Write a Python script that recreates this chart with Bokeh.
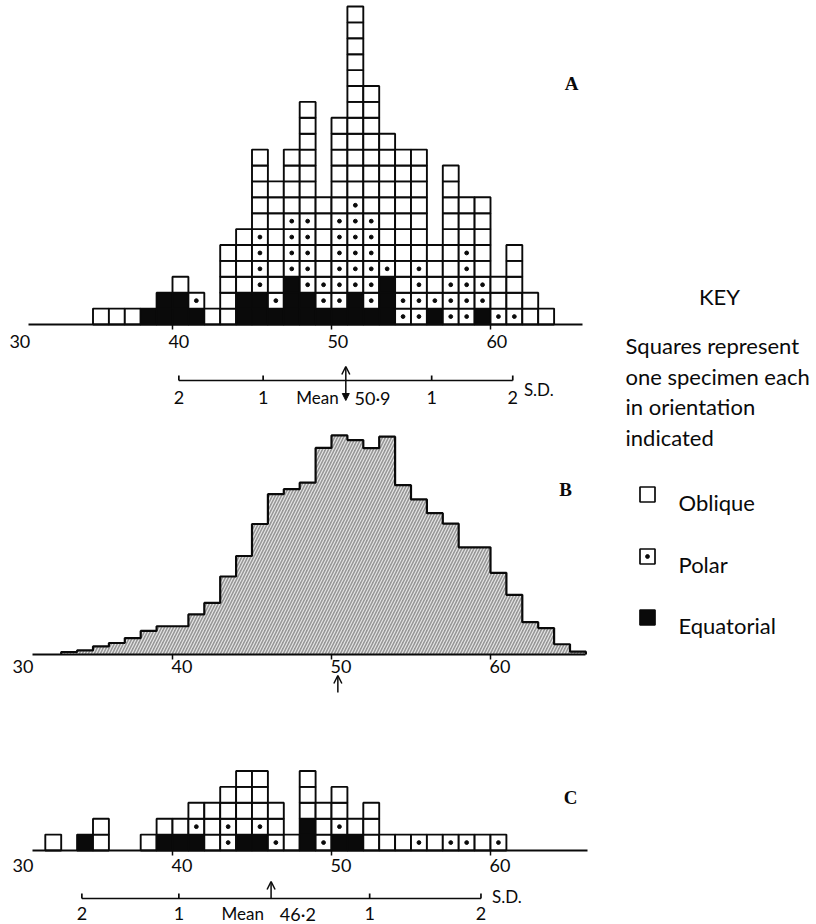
from bokeh.plotting import figure
from bokeh.models import Range1d, Arrow, OpenHead, NormalHead, ColumnDataSource
from bokeh.core.properties import value
from bokeh.embed import file_html
from bokeh.resources import INLINE

# ---------------- data ----------------
# Sample A: specimens per unit class (class starts at the listed value)
a_values     = [35, 36, 37, 38, 39, 40, 41, 42, 43, 44, 45, 46, 47, 48, 49,
                50, 51, 52, 53, 54, 55, 56, 57, 58, 59, 60, 61, 62, 63]
a_equatorial = [0, 0, 0, 1, 2, 2, 1, 0, 0, 2, 2, 1, 3, 2, 1,
                1, 2, 1, 3, 0, 0, 1, 0, 0, 1, 0, 0, 0, 0]
a_polar      = [0, 0, 0, 0, 0, 0, 1, 0, 0, 0, 4, 1, 4, 5, 2,
                6, 6, 6, 1, 2, 4, 1, 3, 5, 2, 1, 1, 0, 0]
a_oblique    = [1, 1, 1, 0, 0, 1, 0, 1, 5, 4, 5, 7, 4, 7, 5,
                6, 12, 8, 8, 9, 7, 3, 7, 3, 5, 2, 4, 2, 1]
a_mean = 50.9
a_sd_marks = [40.4, 45.7, 56.3, 61.4]      # -2, -1, +1, +2 S.D.

# Sample B: percentage frequency per unit class
b_values  = [33, 34, 35, 36, 37, 38, 39, 40, 41, 42, 43, 44, 45, 46, 47, 48, 49,
             50, 51, 52, 53, 54, 55, 56, 57, 58, 59, 60, 61, 62, 63, 64, 65]
b_percent = [0.08, 0.13, 0.26, 0.37, 0.53, 0.76, 0.91, 0.91, 1.29, 1.66, 2.51,
             3.17, 4.20, 5.16, 5.32, 5.53, 6.65, 7.05, 6.90, 6.64, 7.01, 5.45,
             4.99, 4.55, 4.21, 3.45, 3.45, 2.63, 1.92, 1.04, 0.85, 0.33, 0.09]
b_mean_marker = 50.4

# Sample C
c_values     = [32, 34, 35, 38, 39, 40, 41, 42, 43, 44, 45, 46, 47, 48, 49,
                50, 51, 52, 53, 54, 55, 56, 57, 58, 59, 60]
c_equatorial = [0, 1, 0, 0, 1, 1, 1, 0, 0, 1, 1, 0, 0, 2, 0,
                1, 1, 0, 0, 0, 0, 0, 0, 0, 0, 0]
c_polar      = [0, 0, 0, 0, 0, 0, 1, 0, 2, 0, 1, 1, 0, 0, 1,
                1, 0, 0, 0, 0, 1, 0, 1, 1, 0, 1]
c_oblique    = [1, 0, 2, 1, 1, 1, 1, 3, 2, 4, 3, 2, 1, 3, 2,
                2, 1, 3, 1, 1, 0, 1, 0, 0, 1, 0]
c_mean = 46.2
c_sd_marks = [34.3, 40.4, 52.4, 59.4]

tick_values = [30, 40, 50, 60]
sd_labels = ["2", "1", "1", "2"]
key_labels = ["Oblique", "Polar", "Equatorial"]

# ---------------- layout ----------------
W, H = 816, 924
UNIT_PX = 15.9          # one class width == one specimen square
X40 = 172               # page x of the value 40
PCT_PX = 31.07          # height of 1 % in panel B
BASE_A, BASE_B, BASE_C = 324, 654, 850
SANS = value("Lato")
SERIF = value("Liberation Serif")
INK = "#0a0a0a"

x_lo = 40 - X40 / UNIT_PX
x_hi = 40 + (W - X40) / UNIT_PX
ux = lambda px: x_lo + px / UNIT_PX     # page x -> value

p = figure(width=W, height=H, x_range=Range1d(x_lo, x_hi), y_range=Range1d(H, 0),
           output_backend="svg", toolbar_location=None, min_border=0,
           x_axis_location=None, y_axis_location=None)
p.title.visible = False
p.outline_line_color = None
p.grid.visible = False
p.background_fill_color = "white"
p.border_fill_color = "white"


def count_range(base):
    return Range1d(-(H - base) / UNIT_PX, base / UNIT_PX)


p.extra_y_ranges = {
    "a": count_range(BASE_A),
    "c": count_range(BASE_C),
    "b": Range1d(-(H - BASE_B) / PCT_PX, BASE_B / PCT_PX),
}
p.extra_x_ranges = {"px": Range1d(0, W)}


def label(x, y, text, size, align="center", baseline="middle", xr="default",
          font=SANS, style="normal"):
    p.text(x=x, y=y, text=text, x_range_name=xr, text_font=font,
           text_font_size=size, text_align=align, text_baseline=baseline,
           text_font_style=style, text_color=INK)


def specimen_stack(values, eq, po, ob, yr):
    left, bottom, fill = [], [], []
    dx, dy = [], []
    for v, ne, npol, nob in zip(values, eq, po, ob):
        level = 0
        for kind, n in (("eq", ne), ("po", npol), ("ob", nob)):
            for _ in range(n):
                left.append(v)
                bottom.append(level)
                fill.append(INK if kind == "eq" else "white")
                if kind == "po":
                    dx.append(v + 0.5)
                    dy.append(level + 0.5)
                level += 1
    src = ColumnDataSource(dict(left=left, right=[l + 1 for l in left],
                                bottom=bottom, top=[b + 1 for b in bottom], fill=fill))
    p.quad(left="left", right="right", bottom="bottom", top="top", source=src,
           fill_color="fill", line_color=INK, line_width=1.9, y_range_name=yr)
    p.scatter(dx, dy, size=3.8, color=INK, y_range_name=yr)


def value_axis(base, x_start, x_end, label_shift, label_y):
    p.line([x_start, x_end], [base, base], line_color=INK, line_width=2.2)
    p.segment(x0=tick_values[1:], x1=tick_values[1:], y0=[base] * 3, y1=[base + 5] * 3,
              line_color=INK, line_width=1.5)
    label([t + label_shift for t in tick_values], [label_y] * 4,
          [str(t) for t in tick_values], "18px")


def sd_scale(mean, marks, line_y, label_y, mean_label, sd_y, both_heads):
    lo, hi = marks[0], marks[-1]
    p.line([lo, hi], [line_y, line_y], line_color=INK, line_width=1.7)
    p.segment(x0=marks, x1=marks, y0=[line_y] * 4, y1=[line_y - 5] * 4,
              line_color=INK, line_width=1.7)
    label(marks, [label_y] * 4, sd_labels, "18px")
    label([mean - 0.45], [label_y], ["Mean"], "17px", align="right")
    label([mean + 0.55], [label_y], [mean_label], "18px", align="left")
    label([hi + 0.7], [sd_y], ["S.D."], "17px", align="left")
    if both_heads:
        p.add_layout(Arrow(x_start=mean, y_start=line_y + 20, x_end=mean, y_end=line_y - 14,
                           start=NormalHead(size=7, fill_color=INK, line_color=INK),
                           end=OpenHead(size=8, line_color=INK, line_width=1.5),
                           line_color=INK, line_width=1.5))
    else:
        p.add_layout(Arrow(x_start=mean, y_start=line_y, x_end=mean, y_end=line_y - 17,
                           end=OpenHead(size=8, line_color=INK, line_width=1.5),
                           line_color=INK, line_width=1.5))


# ---------------- panel A ----------------
specimen_stack(a_values, a_equatorial, a_polar, a_oblique, "a")
value_axis(BASE_A, ux(28), ux(582), 0.4, 341)
sd_scale(a_mean, a_sd_marks, 380, 397, "50·9", 389, True)

# ---------------- panel B ----------------
bx, by = [b_values[0]], [0.0]
for v, h in zip(b_values, b_percent):
    bx += [v, v + 1]
    by += [h, h]
bx.append(b_values[-1] + 1)
by.append(0.0)
p.patch(bx, by, fill_color="#969696", hatch_pattern="/", hatch_color="#eeeeee",
        hatch_alpha=0.9, hatch_scale=6, hatch_weight=1.2, line_color=None,
        y_range_name="b")
p.line(bx, by, line_color=INK, line_width=2.2, y_range_name="b")
value_axis(BASE_B, ux(32), ux(585), 0.6, 666)
p.add_layout(Arrow(x_start=b_mean_marker, y_start=692, x_end=b_mean_marker, y_end=675,
                   end=OpenHead(size=8, line_color=INK, line_width=1.5),
                   line_color=INK, line_width=1.5))

# ---------------- panel C ----------------
specimen_stack(c_values, c_equatorial, c_polar, c_oblique, "c")
value_axis(BASE_C, ux(32), ux(587), 0.6, 865)
sd_scale(c_mean, c_sd_marks, 898, 913, "46·2", 896, False)

# panel letters
label([571, 565, 570], [83, 489, 797], ["A", "B", "C"], "19px", xr="px",
      font=SERIF, style="bold")

# ---------------- key ----------------
label([719], [296], ["KEY"], "22px", xr="px")
label([625] * 4, [345, 376, 406, 437],
      ["Squares represent", "one specimen each", "in orientation", "indicated"],
      "22px", align="left", baseline="alphabetic", xr="px")
key_y = [494, 556, 617]
p.rect(x=[647] * 3, y=key_y, width=15, height=15, x_range_name="px",
       fill_color=["white", "white", INK], line_color=INK, line_width=1.7)
p.scatter([647], [key_y[1]], size=3.8, color=INK, x_range_name="px")
label([678] * 3, [y + 8 for y in key_y], key_labels, "22px",
      align="left", baseline="alphabetic", xr="px")

open("out.html", "w").write(file_html(p, INLINE))
